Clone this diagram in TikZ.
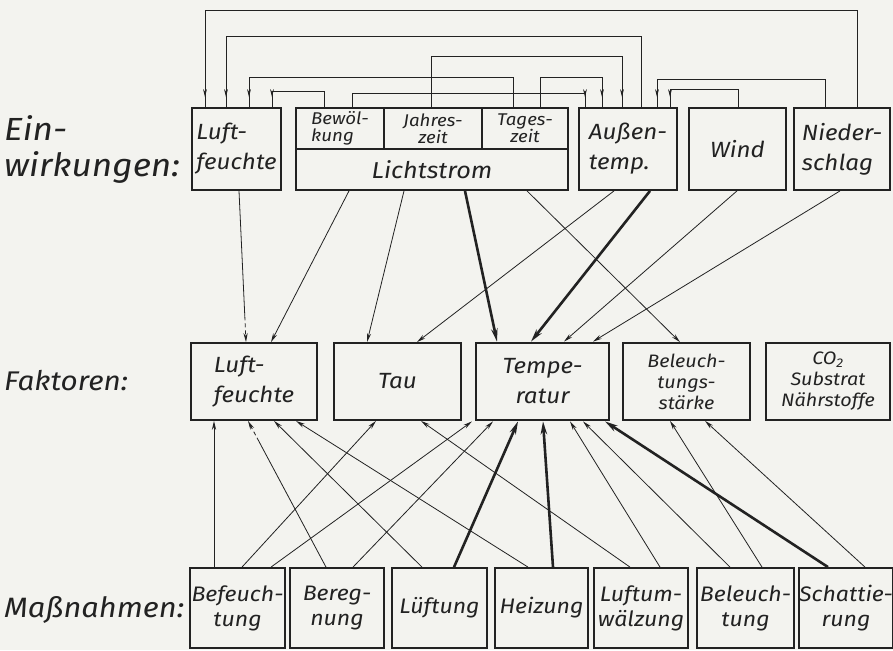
\documentclass[tikz,border=0pt]{standalone}
\usepackage{fontspec}
\setmainfont{Fira Sans}[UprightFont={* Italic}, FakeStretch=1.1]
\usetikzlibrary{arrows.meta,decorations.markings,calc}
\definecolor{paper}{RGB}{243,243,239}
\definecolor{ink}{RGB}{34,34,34}
\tikzset{
  box/.style={draw=ink, fill=paper, line width=1.8pt, inner sep=0pt, align=center,
    text=ink, font=\fontsize{22}{30}\selectfont},
  low/.style={font=\fontsize{21}{25}\selectfont},
  small/.style={font=\fontsize{17}{17}\selectfont},
  three/.style={font=\fontsize{18}{21}\selectfont},
  label/.style={text=ink, anchor=west, align=left, inner sep=0pt,
    font=\fontsize{32}{36}\selectfont},
  wire/.style={draw=ink, line width=0.8pt},
  conn/.style={wire, -{Stealth[length=9pt,width=4.2pt]}},
  heavy/.style={draw=ink, line width=2.6pt, -{Stealth[length=13pt,width=6.5pt]}},
  dashend/.style={conn, dash pattern=on 4pt off 3pt},
  feed/.style={wire, postaction=decorate, decoration={markings,
    mark=at position -10pt with {\arrow{Stealth[length=8pt,width=3.8pt]}}}},
}
\begin{document}
\begin{tikzpicture}[x=1pt,y=-1pt]
\useasboundingbox[fill=paper] (0,0) rectangle (893,650);

% row labels
\node[label] (lEin) at (4,149) {Ein-\\wirkungen:};
\node[label, font=\fontsize{27}{33}\selectfont] (lFak) at (4,381) {Faktoren:};
\node[label, font=\fontsize{28}{33}\selectfont] (lMas) at (4,610) {Maßnahmen:};

% Einwirkungen
\node[box, minimum width=89pt, minimum height=82pt, align=left] (eLF) at (236.5,149) {Luft-\\feuchte};
\node[box, minimum width=272pt, minimum height=82pt] (eLS) at (432,149) {};
\node[box, small, minimum width=88pt, minimum height=41pt, align=left] (eBW) at (340,128.5) {Bewöl-\\kung};
\node[box, small, minimum width=98pt, minimum height=41pt] (eJZ) at (433,128.5) {Jahres-\\zeit};
\node[box, small, minimum width=86pt, minimum height=41pt] (eTZ) at (525,128.5) {Tages-\\zeit};
\node[box, minimum width=272pt, minimum height=41pt, font=\fontsize{23}{25}\selectfont] (eLicht) at (432,169.5) {Lichtstrom};
\node[box, minimum width=98pt, minimum height=82pt, align=left] (eAT) at (628,149) {Außen-\\temp.};
\node[box, minimum width=97pt, minimum height=82pt] (eWI) at (737.5,149) {Wind};
\node[box, minimum width=96pt, minimum height=82pt, align=left] (eNS) at (842,149) {Nieder-\\schlag};

% Faktoren
\node[box, minimum width=126pt, minimum height=77pt, align=left] (fLF) at (254,381.5) {Luft-\\feuchte};
\node[box, minimum width=127pt, minimum height=77pt] (fTau) at (397.5,381.5) {Tau};
\node[box, line width=2.8pt, minimum width=133pt, minimum height=77pt] (fTemp) at (542.5,381.5) {Tempe-\\ratur};
\node[box, three, minimum width=127pt, minimum height=77pt] (fBel) at (686.5,381.5) {Beleuch-\\tungs-\\stärke};
\node[box, three, minimum width=124pt, minimum height=77pt] (fCO) at (828,381.5) {CO\textsubscript{2}\\Substrat\\Nährstoffe};

% Massnahmen
\node[box, low, minimum width=95pt, minimum height=80pt] (mBef) at (237.5,608) {Befeuch-\\tung};
\node[box, low, minimum width=94pt, minimum height=80pt] (mBer) at (337,608) {Bereg-\\nung};
\node[box, low, minimum width=95pt, minimum height=80pt] (mLue) at (439.5,608) {Lüftung};
\node[box, low, minimum width=93pt, minimum height=80pt] (mHei) at (541.5,608) {Heizung};
\node[box, low, minimum width=94pt, minimum height=80pt] (mLuw) at (641,608) {Luftum-\\wälzung};
\node[box, low, minimum width=97pt, minimum height=80pt] (mBel) at (745.5,608) {Beleuch-\\tung};
\node[box, low, minimum width=88pt, minimum height=80pt] (mSch) at (846,608) {Schattie-\\rung};

% feedback among the Einwirkungen
\draw[feed] (857,0 |- eNS.north) -- (857,10) -| (205,0 |- eLF.north);
\draw[feed] (641,0 |- eAT.north) -- (641,36) -| (226,0 |- eLF.north);
\draw[feed] (431,0 |- eJZ.north) -- (431,56) -| (622,0 |- eAT.north);
\draw[feed] (513,0 |- eTZ.north) -- (513,77) -| (249,0 |- eLF.north);
\draw[feed] (540,0 |- eTZ.north) -- (540,77) -| (602,0 |- eAT.north);
\draw[feed] (825,0 |- eNS.north) -- (825,79) -| (657,0 |- eAT.north);
\draw[feed] (324,0 |- eBW.north) -- (324,91) -| (272,0 |- eLF.north);
\draw[feed] (352,0 |- eBW.north) -- (352,93) -| (585,0 |- eAT.north);
\draw[feed] (738,0 |- eWI.north) -- (738,89) -| (670,0 |- eAT.north);

% Einwirkungen -> Faktoren
\coordinate (a1) at (239,0 |- eLF.south);
\coordinate (b1) at (246,0 |- fLF.north);
\draw[wire] (a1) -- ($(a1)!0.83!(b1)$);
\draw[dashend] ($(a1)!0.83!(b1)$) -- (b1);
\draw[conn] (349,0 |- eLicht.south) -- (271,0 |- fLF.north);
\draw[conn] (404,0 |- eLicht.south) -- (367,0 |- fTau.north);
\draw[heavy] (465,0 |- eLicht.south) -- (497,0 |- fTemp.north);
\draw[conn] (527,0 |- eLicht.south) -- (680,0 |- fBel.north);
\draw[conn] (614,0 |- eAT.south) -- (417,0 |- fTau.north);
\draw[heavy] (650,0 |- eAT.south) -- (531,0 |- fTemp.north);
\draw[conn] (737,0 |- eWI.south) -- (564,0 |- fTemp.north);
\draw[conn] (840,0 |- eNS.south) -- (593,0 |- fTemp.north);

% Massnahmen -> Faktoren
\draw[conn] (214,0 |- mBef.north) -- (214,0 |- fLF.south);
\draw[conn] (242,0 |- mBef.north) -- (376,0 |- fTau.south);
\draw[conn] (271,0 |- mBef.north) -- (472,0 |- fTemp.south);
\coordinate (a2) at (326,0 |- mBer.north);
\coordinate (b2) at (248,0 |- fLF.south);
\draw[wire] (a2) -- ($(a2)!0.86!(b2)$);
\draw[dashend] ($(a2)!0.86!(b2)$) -- (b2);
\draw[conn] (353,0 |- mBer.north) -- (493,0 |- fTemp.south);
\draw[conn] (422,0 |- mLue.north) -- (274,0 |- fLF.south);
\draw[heavy] (454,0 |- mLue.north) -- (518,0 |- fTemp.south);
\draw[conn] (528,0 |- mHei.north) -- (296,0 |- fLF.south);
\draw[heavy] (553,0 |- mHei.north) -- (543,0 |- fTemp.south);
\draw[conn] (630,0 |- mLuw.north) -- (421,0 |- fTau.south);
\draw[conn] (660,0 |- mLuw.north) -- (570,0 |- fTemp.south);
\draw[conn] (730,0 |- mBel.north) -- (583,0 |- fTemp.south);
\draw[conn] (762,0 |- mBel.north) -- (670,0 |- fBel.south);
\draw[heavy] (828,0 |- mSch.north) -- (605,0 |- fTemp.south);
\draw[conn] (865,0 |- mSch.north) -- (705,0 |- fBel.south);
\end{tikzpicture}
\end{document}
